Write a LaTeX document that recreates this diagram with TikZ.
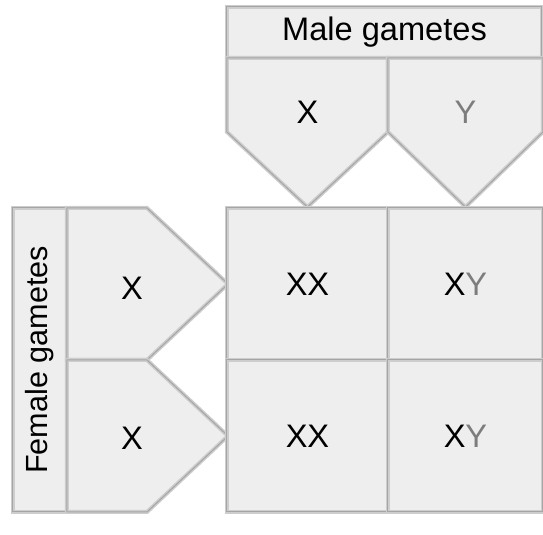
\documentclass[tikz,border=0pt]{standalone}
\usepackage{fontspec}
\setmainfont{Liberation Sans}
\usetikzlibrary{positioning}
\definecolor{feldgrau}{RGB}{238,238,238}
\definecolor{randgrau}{RGB}{205,205,205}
\definecolor{kantegrau}{RGB}{165,165,165}
\definecolor{ygrau}{RGB}{125,125,125}
\tikzset{
  feld/.style={fill=feldgrau, draw=randgrau, line width=2pt, line join=miter,
    postaction={draw=kantegrau, line width=0.5pt}},
  kasten/.style={feld, rectangle, inner sep=0pt},
  schrift/.style={font=\fontsize{16.3}{19}\selectfont, text=black},
}
\newcommand{\yy}{\textcolor{ygrau}{Y}}

\begin{document}
\begin{tikzpicture}[x=0.5pt, y=-0.5pt]
\useasboundingbox (0,0) rectangle (543,535);

% male gametes
\node[kasten, schrift, minimum width=157.5pt, minimum height=25.5pt] (maleHdr) at (384.5,32.5) {Male gametes};
\draw[feld] (227,58) -- (388,58) -- (388,132) -- (307.5,207) -- (227,132) -- cycle;
\draw[feld] (388,58) -- (543,58) -- (543,132) -- (465.5,207) -- (388,132) -- cycle;
\node[schrift] (mX) at (307.5,112) {X};
\node[schrift] (mY) at (465.5,112) {\yy};

% female gametes
\node[kasten, schrift, rotate=90, minimum width=152pt, minimum height=27pt,
      font=\fontsize{15.3}{18}\selectfont] (femaleHdr) at (40,360) {Female gametes};
\draw[feld] (67,208) -- (147,208) -- (228,284) -- (147,360) -- (67,360) -- cycle;
\draw[feld] (67,360) -- (147,360) -- (228,436) -- (147,512) -- (67,512) -- cycle;
\node[schrift] (fXa) at (132,288) {X};
\node[schrift] (fXb) at (132,438) {X};

% offspring
\node[kasten, schrift, minimum width=80.5pt, minimum height=76pt] (cXXa) at (307.5,284) {XX};
\node[kasten, schrift, minimum width=77.5pt, minimum height=76pt] (cXYa) at (465.5,284) {X\yy};
\node[kasten, schrift, minimum width=80.5pt, minimum height=76pt] (cXXb) at (307.5,436) {XX};
\node[kasten, schrift, minimum width=77.5pt, minimum height=76pt] (cXYb) at (465.5,436) {X\yy};

\end{tikzpicture}
\end{document}
